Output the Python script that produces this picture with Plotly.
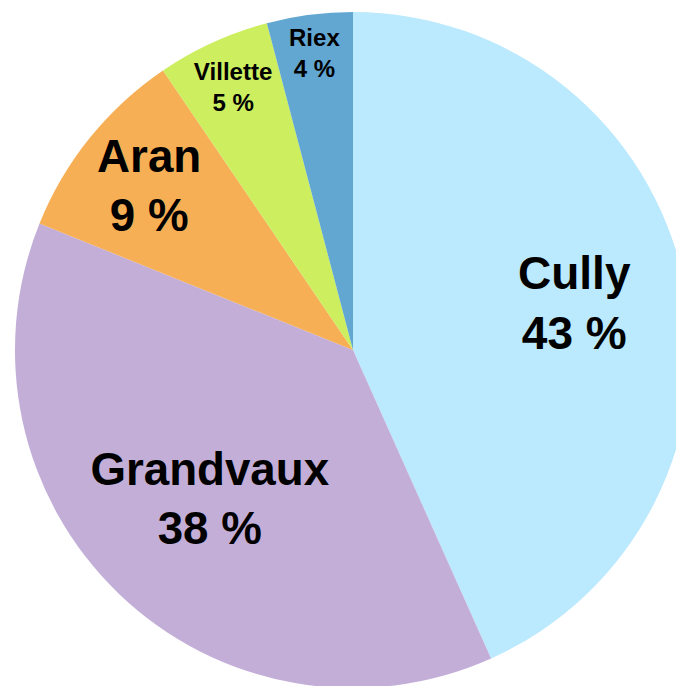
import plotly.graph_objects as go

villages = ["Cully", "Grandvaux", "Aran", "Villette", "Riex"]
shares = [43.3, 37.8, 9.4, 5.4, 4.1]
colors = ["#bbe9fd", "#c3aed8", "#f7af55", "#ccee5f", "#62a7d1"]
label_sizes = [46, 46, 46, 30, 30]
# hole of the (invisible) pie layer that carries each label -> pushes big labels outwards
label_holes = [0.34, 0.22, 0, 0, 0]

dom = dict(x=[0.0102, 0.9985], y=[0.0087, 0.9942])

fig = go.Figure()
# the coloured slices
fig.add_trace(go.Pie(
    labels=villages,
    values=shares,
    sort=False,
    direction="clockwise",
    rotation=0,
    marker=dict(colors=colors, line=dict(width=0)),
    textinfo="none",
    hoverinfo="label+percent",
    domain=dom,
))

# transparent layers only used for the labels
for hole in sorted(set(label_holes)):
    tmpl = ["%{label}<br>%{value:.0f} %" if h == hole else "" for h in label_holes]
    fig.add_trace(go.Pie(
        labels=villages,
        values=shares,
        sort=False,
        direction="clockwise",
        rotation=0,
        hole=hole,
        marker=dict(colors=["rgba(0,0,0,0)"] * len(villages), line=dict(width=0)),
        texttemplate=tmpl,
        textposition="inside",
        insidetextorientation="horizontal",
        textfont=dict(family="Arial, Liberation Sans", size=label_sizes, color="black", weight="bold"),
        hoverinfo="skip",
        domain=dom,
    ))

fig.update_layout(
    width=684,
    height=686,
    margin=dict(l=0, r=0, t=0, b=0),
    showlegend=False,
    paper_bgcolor="white",
)
fig.write_html("out.html")
